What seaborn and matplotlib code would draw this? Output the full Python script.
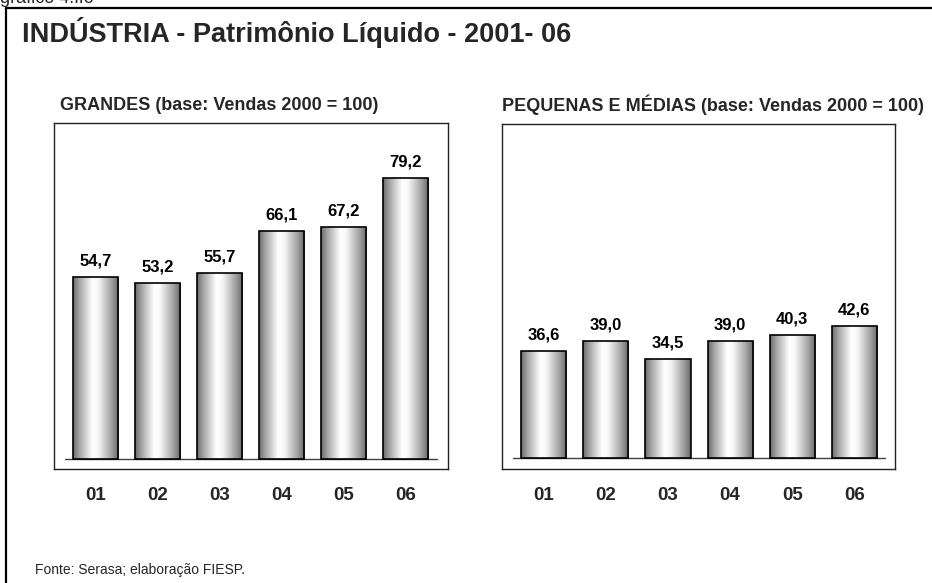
import numpy as np
import pandas as pd
import matplotlib
matplotlib.use("Agg")
import matplotlib.pyplot as plt
from matplotlib.lines import Line2D
import seaborn as sns

# ---- data ----
anos = ["01", "02", "03", "04", "05", "06"]
grandes = [54.7, 53.2, 55.7, 66.1, 67.2, 79.2]
pequenas_medias = [36.6, 39.0, 34.5, 39.0, 40.3, 42.6]

titulo = "INDÚSTRIA - Patrimônio Líquido - 2001- 06"
sub_esq = "GRANDES (base: Vendas 2000 = 100)"
sub_dir = "PEQUENAS E MÉDIAS (base: Vendas 2000 = 100)"
fonte = "Fonte: Serasa; elaboração FIESP."
topo = "grafico 4.ffo"

sns.set_style("white")
plt.rcParams["font.family"] = ["Liberation Sans", "DejaVu Sans"]

W, H = 932, 583
fig = plt.figure(figsize=(W / 100, H / 100), dpi=100)
fig.patch.set_facecolor("white")


def frac_box(x0, y0, x1, y1):
    return [x0 / W, (H - y1) / H, (x1 - x0) / W, (y1 - y0) / H]


# gradient (cylinder look)
pos = np.linspace(0, 1, 200)
grad_vals = np.interp(pos, [0.0, 0.12, 0.42, 0.55, 0.85, 1.0],
                      [0.42, 0.62, 1.0, 0.97, 0.62, 0.40])
grad = grad_vals[np.newaxis, :]


def panel(box, values, xlim, ylim, base):
    ax = fig.add_axes(frac_box(*box))
    df = pd.DataFrame({"ano": anos, "valor": values})
    sns.barplot(data=df, x="ano", y="valor", ax=ax, width=0.726,
                color="white", edgecolor="black", linewidth=1.2,
                saturation=1)
    for p, v in zip(ax.patches, values):
        p.set_y(base)
        p.set_height(v - base)
        p.set_facecolor("none")
        p.set_zorder(3)
        x0 = p.get_x()
        w = p.get_width()
        im = ax.imshow(grad, cmap="gray", vmin=0, vmax=1, aspect="auto",
                       extent=[x0, x0 + w, base, v], zorder=2,
                       interpolation="bilinear")
        im.set_clip_path(p)
        lab = f"{v:.1f}".replace(".", ",")
        ax.annotate(lab, xy=(x0 + w / 2, v), xytext=(0, 16),
                    textcoords="offset pixels", ha="center", va="center",
                    fontsize=12, fontweight="bold", color="black")
    ax.plot([-0.5, 5.5], [base, base], color="#404040", lw=1.0, zorder=1)
    ax.set_xlim(*xlim)
    ax.set_ylim(*ylim)
    ax.set_xlabel("")
    ax.set_ylabel("")
    ax.set_yticks([])
    ax.tick_params(axis="x", length=0, pad=13)
    for t in ax.get_xticklabels():
        t.set_fontsize(13.5)
        t.set_fontweight("bold")
    for s in ax.spines.values():
        s.set_visible(True)
        s.set_color("#222222")
        s.set_linewidth(1.0)
    return ax


panel((54.3, 123.3, 447.7, 469.3), grandes, (-0.669, 5.676), (6.75, 92.9), 9.31)
panel((502.3, 124.3, 895.0, 468.7), pequenas_medias, (-0.668, 5.655), (8.14, 91.1), 10.72)

# texts
fig.text(22 / W, 1 - 32 / H, titulo, fontsize=19.5, fontweight="bold",
         ha="left", va="center")
fig.text(60 / W, 1 - 105 / H, sub_esq, fontsize=13, fontweight="bold",
         ha="left", va="center")
fig.text(502 / W, 1 - 105 / H, sub_dir, fontsize=13, fontweight="bold",
         ha="left", va="center")
fig.text(35 / W, 1 - 570 / H, fonte, fontsize=10, ha="left", va="center")
fig.text(0 / W, 1 - 3 / H, topo, fontsize=13, ha="left", va="baseline")

# outer frame lines
fig.add_artist(Line2D([6 / W, 6 / W], [0, 1 - 8 / H], color="black", lw=1.6,
                      transform=fig.transFigure))
fig.add_artist(Line2D([6 / W, 1], [1 - 8 / H, 1 - 8 / H], color="black", lw=1.6,
                      transform=fig.transFigure))

fig.savefig("out.png", dpi=100)
